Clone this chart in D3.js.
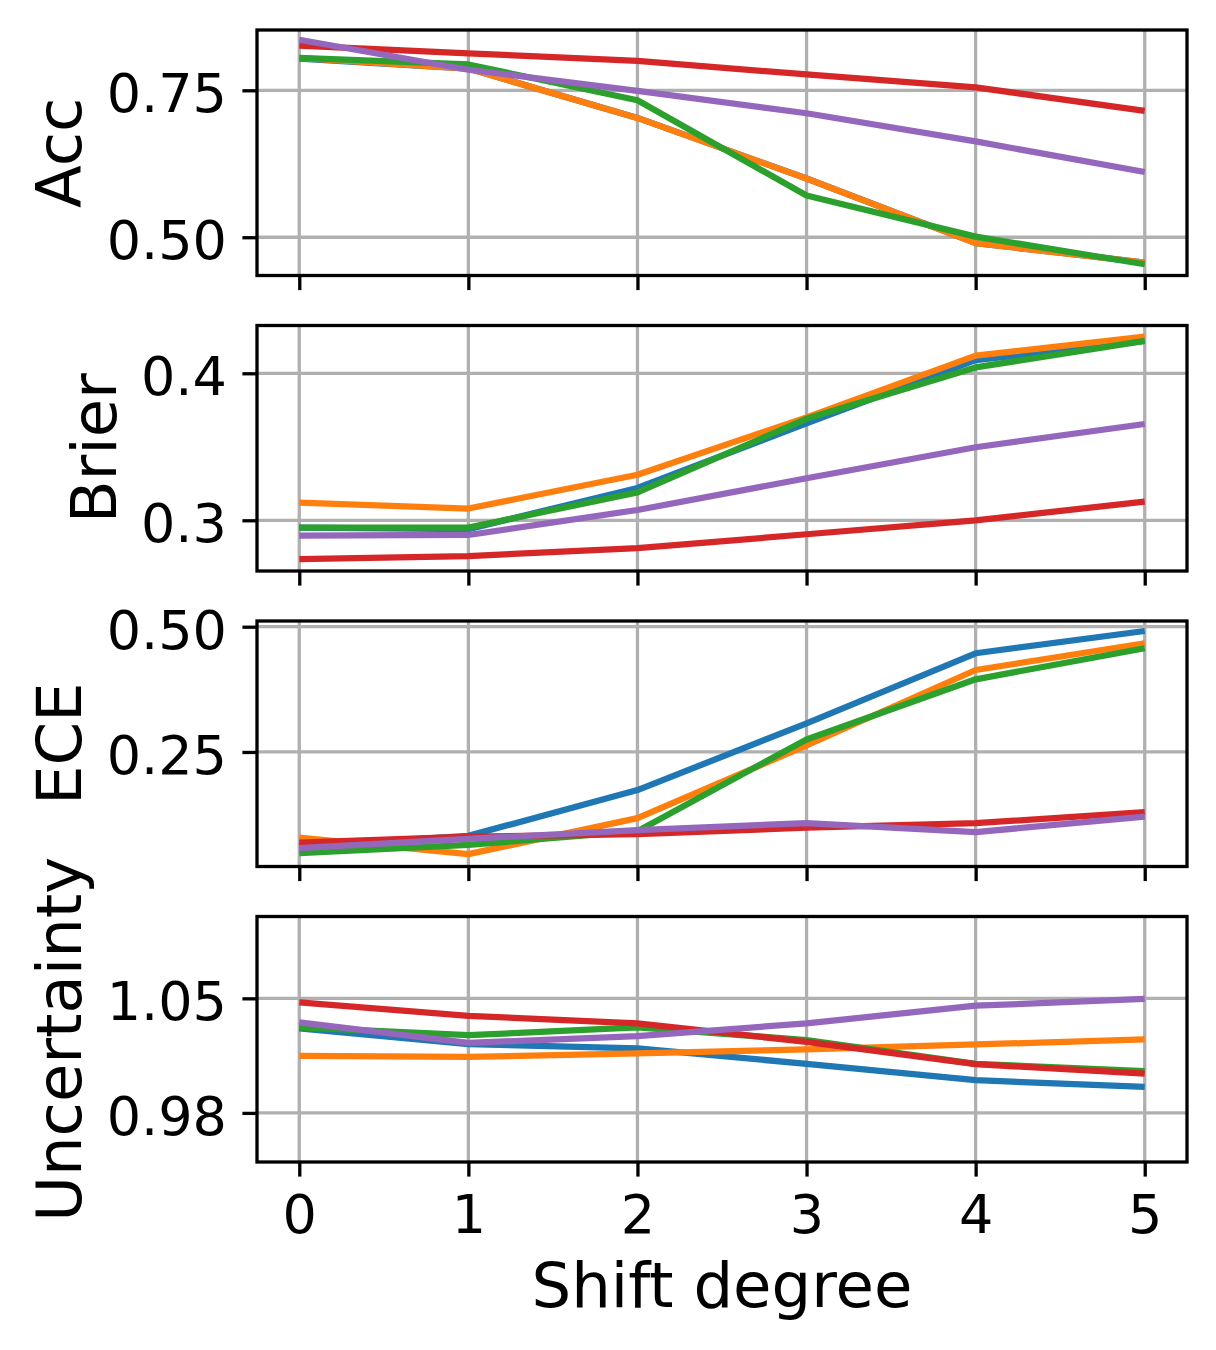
<!DOCTYPE html>
<html lang="en">
<head>
<meta charset="UTF-8">
<title>Shift degree metrics</title>
<style>
  body { margin: 0; background: #fff; }
  svg { display: block; }
  text { font-family: "DejaVu Sans", sans-serif; fill: #000; }
</style>
</head>
<body>
<div class="canvas"></div>
<script src="https://cdnjs.cloudflare.com/ajax/libs/d3/7.8.5/d3.min.js"></script>
<script>
// data, one row per series (blue, orange, green, red, purple)
const shifts = [0, 1, 2, 3, 4, 5];
const colors = ['#1f77b4', '#ff7f0e', '#2ca02c', '#d62728', '#9467bd'];

const acc = [
  [0.804, 0.787, 0.703, 0.600, 0.490, 0.457],
  [0.805, 0.787, 0.703, 0.600, 0.490, 0.457],
  [0.805, 0.794, 0.733, 0.571, 0.501, 0.454],
  [0.826, 0.813, 0.800, 0.777, 0.755, 0.715],
  [0.836, 0.785, 0.749, 0.711, 0.663, 0.611]
];
const brier = [
  [0.295, 0.294, 0.322, 0.366, 0.409, 0.422],
  [0.312, 0.308, 0.331, 0.370, 0.412, 0.425],
  [0.295, 0.295, 0.319, 0.369, 0.404, 0.422],
  [0.2735, 0.2757, 0.281, 0.2905, 0.300, 0.3127],
  [0.2895, 0.290, 0.307, 0.3286, 0.3497, 0.3655]
];
const ece = [
  [0.062, 0.0825, 0.174, 0.307, 0.447, 0.4914],
  [0.079, 0.046, 0.118, 0.263, 0.4136, 0.467],
  [0.048, 0.0645, 0.092, 0.275, 0.395, 0.457],
  [0.069, 0.081, 0.086, 0.099, 0.1078, 0.1297],
  [0.058, 0.0765, 0.094, 0.108, 0.090, 0.121]
];
const uncertainty = [
  [1.0316, 1.022, 1.0194, 1.010, 1.000, 0.9959],
  [1.0149, 1.0142, 1.0163, 1.0188, 1.0218, 1.0249],
  [1.0322, 1.0275, 1.0322, 1.0245, 1.010, 1.0055],
  [1.0475, 1.0393, 1.0347, 1.0234, 1.0098, 1.004],
  [1.0353, 1.0228, 1.0269, 1.0347, 1.0455, 1.0496]
];

const accTicks = [0.50, 0.75];
const brierTicks = [0.3, 0.4];
const eceTicks = [0.25, 0.50];
const uncertaintyTicks = [0.98, 1.05];

const panels = [
  {label: 'Acc', data: acc, ticks: accTicks, fmt: '.2f', domain: [0.4349, 0.8526]},
  {label: 'Brier', data: brier, ticks: brierTicks, fmt: '.1f', domain: [0.2655, 0.4325]},
  {label: 'ECE', data: ece, ticks: eceTicks, fmt: '.2f', domain: [0.0214, 0.5114]},
  {label: 'Uncertainty', data: uncertainty, ticks: uncertaintyTicks, fmt: '.2f', domain: [0.95, 1.10]}
];

// dimensions
const width = 1216, height = 1350;
const left = 257, right = 1187;
const panelTop = 30, panelHeight = 245.5, panelStep = 295.5;
const lw = 3.3;   // spine / tick / grid width

const svg = d3.select('.canvas')
  .append('svg')
    .attr('width', width)
    .attr('height', height);

const x = d3.scaleLinear()
  .domain([-0.25, 5.25])
  .range([left, right]);

panels.forEach((p, i) => {
  const top = panelTop + i * panelStep;
  const bottom = top + panelHeight;

  const y = d3.scaleLinear()
    .domain(p.domain)
    .range([bottom, top]);

  const g = svg.append('g');

  // grid
  g.append('g').selectAll('line')
    .data(shifts)
    .join('line')
      .attr('x1', d => x(d)).attr('x2', d => x(d))
      .attr('y1', top).attr('y2', bottom)
      .attr('stroke', '#b0b0b0').attr('stroke-width', lw);

  g.append('g').selectAll('line')
    .data(p.ticks)
    .join('line')
      .attr('x1', left).attr('x2', right)
      .attr('y1', d => y(d)).attr('y2', d => y(d))
      .attr('stroke', '#b0b0b0').attr('stroke-width', lw);

  // series
  const line = d3.line()
    .x((d, j) => x(shifts[j]))
    .y(d => y(d));

  g.append('g').selectAll('path')
    .data(p.data)
    .join('path')
      .attr('d', line)
      .attr('fill', 'none')
      .attr('stroke', (d, k) => colors[k])
      .attr('stroke-width', 6.25)
      .attr('stroke-linejoin', 'round')
      .attr('stroke-linecap', 'butt');

  // frame
  g.append('rect')
    .attr('x', left).attr('y', top)
    .attr('width', right - left).attr('height', panelHeight)
    .attr('fill', 'none')
    .attr('stroke', '#000').attr('stroke-width', lw);

  // axes
  const yAxisGroup = g.append('g')
    .attr('transform', `translate(${left}, 0)`)
    .call(d3.axisLeft(y)
      .tickValues(p.ticks)
      .tickFormat(d3.format(p.fmt))
      .tickSize(14.6)
      .tickPadding(15.5));

  const isLast = i === panels.length - 1;
  const xAxisGroup = g.append('g')
    .attr('transform', `translate(0, ${bottom})`)
    .call(d3.axisBottom(x)
      .tickValues(shifts)
      .tickFormat(isLast ? d3.format('d') : () => '')
      .tickSize(14.6)
      .tickPadding(18));

  [yAxisGroup, xAxisGroup].forEach(ax => {
    ax.select('.domain').remove();
    ax.selectAll('.tick line').attr('stroke', '#000').attr('stroke-width', lw);
    ax.selectAll('.tick text')
      .attr('fill', '#000')
      .style('font-family', '"DejaVu Sans", sans-serif')
      .style('font-size', '54px');
  });
  yAxisGroup.selectAll('.tick text').attr('dy', '0.40em');

  // y label, placed left of this panel's tick labels
  let minX = Infinity;
  yAxisGroup.selectAll('.tick text').each(function() {
    const b = this.getBBox();
    minX = Math.min(minX, b.x + left);
  });
  const labelX = minX - 25.5;
  const labelY = (top + bottom) / 2;
  g.append('text')
    .attr('transform', `translate(${labelX}, ${labelY}) rotate(-90)`)
    .attr('text-anchor', 'middle')
    .style('font-size', '62.5px')
    .text(p.label);
});

// x label
svg.append('text')
  .attr('x', (left + right) / 2)
  .attr('y', 1307)
  .attr('text-anchor', 'middle')
  .style('font-size', '62.5px')
  .text('Shift degree');
</script>
</body>
</html>
